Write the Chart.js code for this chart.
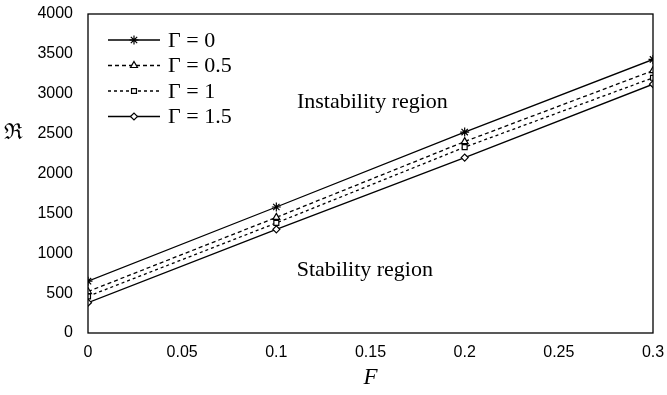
<!DOCTYPE html>
<html lang="en">
<head>
    <meta charset="UTF-8">
    <title>Rayleigh number vs F</title>
    <script src="https://cdn.jsdelivr.net/npm/chart.js"></script>
    <style>
        body { margin: 0; background: #fff; }
        #wrap { width: 667px; height: 395px; }
    </style>
</head>
<body>
    <div id="wrap"><canvas id="rChart" width="667" height="395"></canvas></div>
    <script>
        const fValues = [0, 0.1, 0.2, 0.3];
        const gamma0 = [650, 1580, 2520, 3430];
        const gamma05 = [520, 1450, 2400, 3290];
        const gamma1 = [460, 1380, 2330, 3200];
        const gamma15 = [380, 1300, 2200, 3120];
        const seriesLabels = ['\u0393 = 0', '\u0393 = 0.5', '\u0393 = 1', '\u0393 = 1.5'];

        const serif = "'Liberation Serif', 'Times New Roman', serif";
        const sans = "'Liberation Sans', Arial, sans-serif";

        const toPoints = (vals) => vals.map((v, i) => ({ x: fValues[i], y: v }));

        const makeSet = (label, vals, style, dash, radius) => ({
            label,
            data: toPoints(vals),
            borderColor: '#000',
            backgroundColor: '#fff',
            pointBorderColor: '#000',
            pointBackgroundColor: '#fff',
            borderWidth: 1.3,
            borderDash: dash,
            pointStyle: style,
            pointRadius: radius,
            pointBorderWidth: 1.2,
            tension: 0
        });

        // frame, axis titles, region labels and in-plot legend
        const extras = {
            id: 'extras',
            afterDraw(chart) {
                const { ctx, chartArea: a, scales: { x, y } } = chart;
                ctx.save();
                ctx.strokeStyle = '#000';
                ctx.lineWidth = 1.3;
                ctx.strokeRect(a.left, a.top, a.right - a.left, a.bottom - a.top);

                ctx.fillStyle = '#000';
                ctx.textAlign = 'center';
                ctx.textBaseline = 'middle';
                ctx.font = 'italic 23px ' + serif;
                ctx.fillText('F', (a.left + a.right) / 2, 378);
                ctx.font = '22px ' + serif;
                ctx.fillText('\u211C', 13, y.getPixelForValue(2500));

                ctx.font = '22px ' + serif;
                ctx.fillText('Instability region', x.getPixelForValue(0.151), y.getPixelForValue(2900));
                ctx.fillText('Stability region', x.getPixelForValue(0.147), y.getPixelForValue(790));

                // legend
                ctx.textAlign = 'left';
                ctx.font = '22px ' + serif;
                chart.data.datasets.forEach((ds, i) => {
                    const ly = a.top + 26 + i * 25.5;
                    const x0 = a.left + 20, x1 = a.left + 72;
                    ctx.save();
                    ctx.lineWidth = ds.borderWidth;
                    ctx.setLineDash(ds.borderDash);
                    ctx.beginPath();
                    ctx.moveTo(x0, ly);
                    ctx.lineTo(x1, ly);
                    ctx.stroke();
                    ctx.restore();
                    ctx.save();
                    ctx.lineWidth = ds.pointBorderWidth;
                    ctx.fillStyle = '#fff';
                    Chart.helpers.drawPoint(ctx, { pointStyle: ds.pointStyle, radius: ds.pointRadius, borderWidth: ds.pointBorderWidth, rotation: 0 }, (x0 + x1) / 2, ly);
                    ctx.restore();
                    ctx.fillText(ds.label, x1 + 8, ly + 1);
                });
                ctx.restore();
            }
        };

        new Chart(document.getElementById('rChart'), {
            type: 'scatter',
            data: {
                datasets: [
                    makeSet(seriesLabels[0], gamma0, 'star', [], 4.5),
                    makeSet(seriesLabels[1], gamma05, 'triangle', [4, 3], 4),
                    makeSet(seriesLabels[2], gamma1, 'rect', [3, 3], 3.5),
                    makeSet(seriesLabels[3], gamma15, 'rectRot', [], 3.5)
                ]
            },
            options: {
                responsive: false,
                animation: false,
                showLine: true,
                layout: { padding: { left: 0, right: 14, top: 14, bottom: 0 } },
                plugins: { legend: { display: false }, tooltip: { enabled: false } },
                scales: {
                    x: {
                        type: 'linear',
                        min: 0,
                        max: 0.3,
                        afterFit: (s) => { s.height = 62; s.paddingLeft = 0; s.paddingRight = 0; },
                        afterBuildTicks: (s) => { s.ticks = [0, 0.05, 0.1, 0.15, 0.2, 0.25, 0.3].map(v => ({ value: v })); },
                        grid: { display: false, drawTicks: false },
                        border: { display: false },
                        ticks: {
                            color: '#000',
                            padding: 10,
                            maxRotation: 0,
                            font: { family: sans, size: 16 },
                            callback: (v) => String(Math.round(v * 100) / 100)
                        }
                    },
                    y: {
                        min: 0,
                        max: 4000,
                        afterFit: (s) => { s.width = 88; s.paddingTop = 0; s.paddingBottom = 0; },
                        grid: { display: false, drawTicks: false },
                        border: { display: false },
                        ticks: {
                            color: '#000',
                            stepSize: 500,
                            padding: 15,
                            font: { family: sans, size: 16 },
                            callback: (v) => String(v)
                        }
                    }
                }
            },
            plugins: [extras]
        });
    </script>
</body>
</html>
